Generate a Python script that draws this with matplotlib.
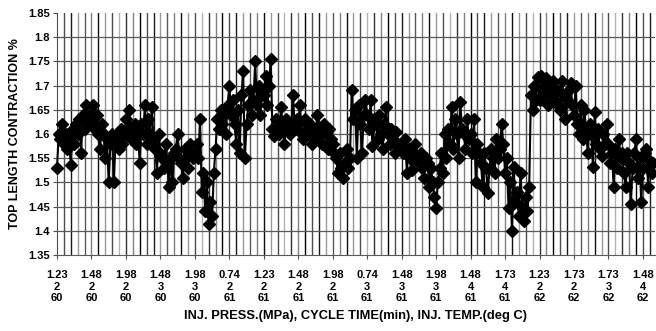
import numpy as np
import matplotlib.pyplot as plt

plt.rcParams['font.family'] = ['Liberation Sans', 'DejaVu Sans']

# x labels: injection pressure / cycle time / injection temp
pressure = ['1.23', '1.48', '1.98', '1.48', '1.98', '0.74', '1.23', '1.48', '1.98',
            '0.74', '1.48', '1.98', '1.48', '1.73', '1.23', '1.73', '1.73', '1.48']
cycle = ['2', '2', '2', '3', '3', '2', '2', '2', '2', '3', '3', '3', '4', '4', '2', '2', '3', '4']
temp = ['60', '60', '60', '60', '60', '61', '61', '61', '61', '61', '61', '61', '61', '61',
        '62', '62', '62', '62']

# contraction readings, one list per setting
run00 = [1.53, 1.60, 1.59, 1.62, 1.58, 1.60, 1.57, 1.59, 1.535, 1.61, 1.58, 1.62, 1.60, 1.63, 1.56, 1.64, 1.61, 1.66, 1.62, 1.64]
run01 = [1.63, 1.66, 1.61, 1.64, 1.60, 1.57, 1.62, 1.60, 1.55, 1.59, 1.50, 1.58, 1.60, 1.50, 1.59, 1.60, 1.57, 1.61, 1.58, 1.60]
run02 = [1.63, 1.60, 1.65, 1.59, 1.61, 1.62, 1.58, 1.60, 1.54, 1.62, 1.60, 1.66, 1.58, 1.63, 1.60, 1.655, 1.59, 1.57, 1.52, 1.60]
run03 = [1.56, 1.55, 1.53, 1.58, 1.54, 1.49, 1.55, 1.50, 1.56, 1.57, 1.60, 1.55, 1.54, 1.51, 1.57, 1.55, 1.53, 1.58, 1.56, 1.55]
run04 = [1.56, 1.58, 1.55, 1.63, 1.48, 1.52, 1.44, 1.50, 1.415, 1.46, 1.43, 1.52, 1.57, 1.63, 1.61, 1.65, 1.62, 1.64, 1.60, 1.66]
run05 = [1.70, 1.64, 1.67, 1.62, 1.58, 1.65, 1.56, 1.68, 1.73, 1.55, 1.62, 1.66, 1.69, 1.64, 1.67, 1.75, 1.66, 1.70, 1.64, 1.68]
run06 = [1.68, 1.72, 1.66, 1.70, 1.755, 1.61, 1.595, 1.63, 1.61, 1.60, 1.655, 1.62, 1.58, 1.63, 1.61, 1.60, 1.62, 1.68, 1.61, 1.63]
run07 = [1.62, 1.66, 1.60, 1.59, 1.63, 1.61, 1.60, 1.62, 1.58, 1.61, 1.59, 1.64, 1.60, 1.61, 1.58, 1.62, 1.60, 1.57, 1.61, 1.59]
run08 = [1.58, 1.56, 1.55, 1.52, 1.56, 1.53, 1.51, 1.54, 1.57, 1.53, 1.55, 1.69, 1.63, 1.65, 1.55, 1.66, 1.62, 1.56, 1.64, 1.67]
run09 = [1.64, 1.61, 1.67, 1.575, 1.63, 1.62, 1.59, 1.64, 1.60, 1.57, 1.62, 1.655, 1.60, 1.58, 1.61, 1.60, 1.56, 1.605, 1.58, 1.57]
run10 = [1.58, 1.56, 1.59, 1.52, 1.57, 1.55, 1.525, 1.56, 1.58, 1.55, 1.54, 1.56, 1.53, 1.51, 1.55, 1.54, 1.49, 1.53, 1.50, 1.47]
run11 = [1.447, 1.50, 1.53, 1.56, 1.52, 1.60, 1.55, 1.61, 1.58, 1.655, 1.57, 1.63, 1.60, 1.55, 1.667, 1.61, 1.60, 1.57, 1.63, 1.59]
run12 = [1.60, 1.56, 1.63, 1.50, 1.58, 1.56, 1.54, 1.49, 1.56, 1.53, 1.478, 1.53, 1.57, 1.55, 1.52, 1.59, 1.55, 1.57, 1.62, 1.58]
run13 = [1.52, 1.55, 1.447, 1.50, 1.40, 1.532, 1.46, 1.48, 1.43, 1.52, 1.45, 1.42, 1.47, 1.44, 1.49, 1.68, 1.65, 1.70, 1.67, 1.718]
run14 = [1.67, 1.72, 1.68, 1.70, 1.715, 1.66, 1.70, 1.68, 1.71, 1.67, 1.69, 1.66, 1.65, 1.71, 1.68, 1.63, 1.67, 1.69, 1.705, 1.66]
run15 = [1.64, 1.70, 1.62, 1.60, 1.66, 1.59, 1.65, 1.61, 1.56, 1.62, 1.60, 1.532, 1.645, 1.58, 1.61, 1.57, 1.555, 1.60, 1.58, 1.62]
run16 = [1.58, 1.54, 1.56, 1.49, 1.57, 1.53, 1.59, 1.55, 1.56, 1.52, 1.49, 1.56, 1.54, 1.455, 1.53, 1.56, 1.59, 1.51, 1.55, 1.46]
run17 = [1.53, 1.56, 1.57, 1.49, 1.545, 1.52, 1.54]

runs = [run00, run01, run02, run03, run04, run05, run06, run07, run08,
        run09, run10, run11, run12, run13, run14, run15, run16, run17]
contraction = np.concatenate(runs)
x = np.arange(len(contraction))
per_label = len(run00)

yticks = [1.35, 1.4, 1.45, 1.5, 1.55, 1.6, 1.65, 1.7, 1.75, 1.8, 1.85]

fig = plt.figure(figsize=(6.56, 3.31), dpi=100)
ax = fig.add_axes([57/656, 76/331, 598/656, 242/331])

# vertical grid, uneven shades like the scanned original
shades = ['0.3', '0.1', '0.6', '0.35', '0.5', '0.05', '0.6', '0.3', '0.7', '0.2', '0.5', '0.0']
for k, gx in enumerate(range(4, len(contraction) + 1, 4)):
    ax.axvline(gx, color=shades[k % len(shades)], lw=1.0, zorder=1)
for gy in yticks[1:-1]:
    ax.axhline(gy, color='0.35', lw=0.9, zorder=1)

ax.plot(x, contraction, color='black', lw=1.5, marker='D', ms=6, zorder=3, clip_on=False)

ax.set_xlim(0, 347)
ax.set_ylim(1.35, 1.85)
ax.set_yticks(yticks)
ax.set_yticklabels([('%g' % v) for v in yticks], fontsize=8, fontweight='bold')
ax.set_xticks(np.arange(len(pressure)) * per_label)
ax.set_xticklabels([p + '\n' + c + '\n' + t for p, c, t in zip(pressure, cycle, temp)],
                   fontsize=8, fontweight='bold', linespacing=1.2)
ax.tick_params(axis='x', length=3, pad=8, color='0.3')
ax.tick_params(axis='y', length=3, pad=2, color='0.3')

for s in ['top', 'right']:
    ax.spines[s].set_visible(False)
ax.spines['left'].set_color('0.3')
ax.spines['bottom'].set_color('0.35')

ax.set_ylabel('TOP LENGTH CONTRACTION %', fontsize=9, fontweight='bold', labelpad=5)
ax.set_xlabel('INJ. PRESS.(MPa), CYCLE TIME(min), INJ. TEMP.(deg C)', fontsize=9.3,
              fontweight='bold', labelpad=5)

fig.savefig('out.png', dpi=100)
